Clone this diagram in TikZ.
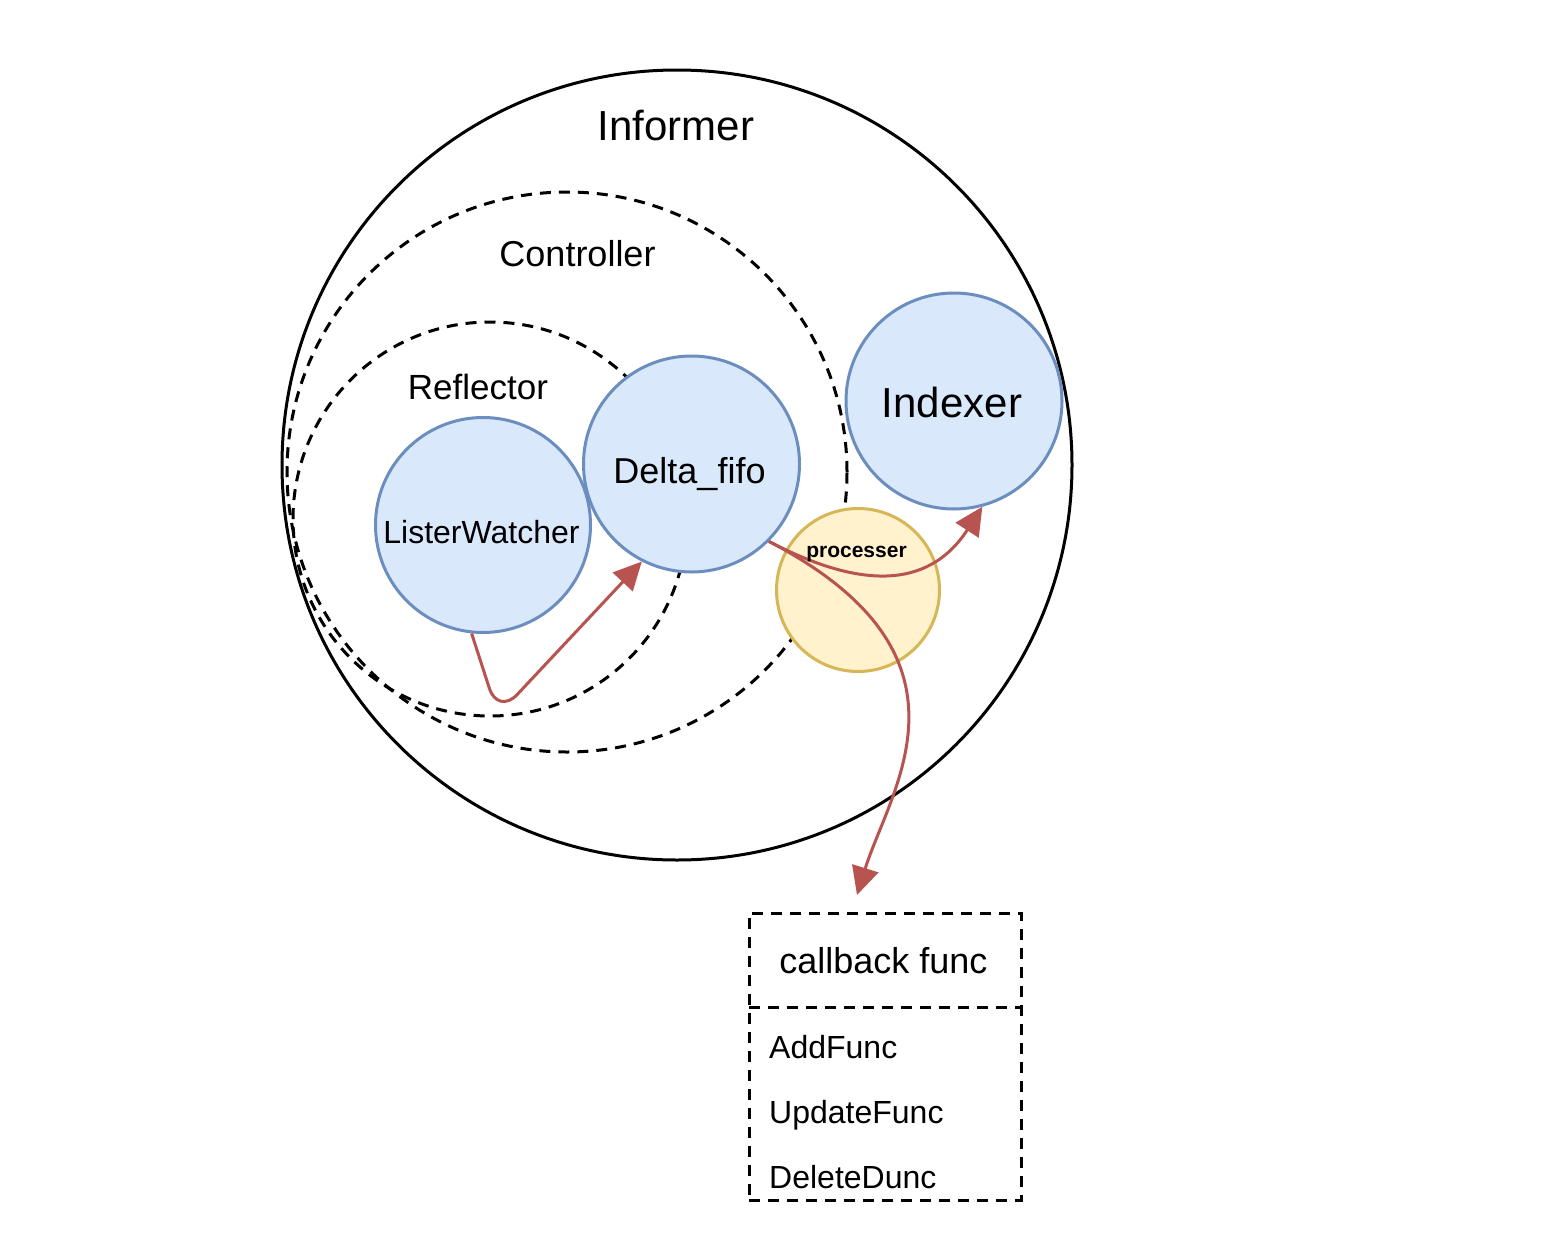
\documentclass[tikz,border=0pt]{standalone}
\usepackage{fontspec}
\setmainfont{Liberation Sans}
\usetikzlibrary{arrows.meta}
\definecolor{bluefill}{HTML}{DAE8FC}
\definecolor{bluestroke}{HTML}{6C8EBF}
\definecolor{yelfill}{HTML}{FFF2CC}
\definecolor{yelstroke}{HTML}{D6B656}
\definecolor{redline}{HTML}{B85450}
\begin{document}
\begin{tikzpicture}[x=1pt,y=-1pt,
  dashline/.style={dash pattern=on 11pt off 8pt},
  ring/.style={circle, draw=black, line width=3pt, inner sep=0pt, minimum size=#1},
  bluecirc/.style={circle, draw=bluestroke, fill=bluefill, line width=3pt, inner sep=0pt, minimum size=#1},
  yelcirc/.style={circle, draw=yelstroke, fill=yelfill, line width=3pt, inner sep=0pt, minimum size=#1},
  lbl/.style={inner sep=0pt, anchor=base, font=\fontsize{#1}{#1}\selectfont},
  lblw/.style={inner sep=0pt, anchor=base west, font=\fontsize{#1}{#1}\selectfont},
  redarrow/.style={draw=redline, line width=3pt, -{Triangle[length=28pt,width=27pt]}},
]
\fill[white] (0,0) rectangle (1542,1234);
\useasboundingbox (0,0) rectangle (1542,1234);

% containers
\node[ring=790pt] (informer) at (677,465) {};
\node[ring=560pt, dashline] (controller) at (567,472) {};
\node[ring=394pt, dashline] (reflector) at (490,519) {};

% components
\node[bluecirc=215pt] (lw) at (483,525) {};
\node[bluecirc=216pt] (delta) at (691.5,464) {};
\node[bluecirc=216pt] (indexer) at (954,401) {};
\node[yelcirc=163pt] (proc) at (858,590) {};

% callback box
\node[draw=black, line width=3pt, dashline, rectangle, inner sep=0pt,
      minimum width=272pt, minimum height=287pt] (cb) at (885,1056.5) {};
\draw[line width=3pt, dashline] (749,1007) -- (1021,1007);
\coordinate (cbtip) at (857,895);

% connectors
\draw[redarrow, rounded corners=28pt] (lw.-96) -- (498,715) -- (delta.-117);
\draw[redarrow] (delta.-45) .. controls (856,587) and (927,592) .. (indexer.-75);
\draw[redarrow] (delta.-45) .. controls (989,656) and (890,789) .. (cbtip);

% labels
\node[lbl=42pt] (tinformer) at (676,140) {Informer};
\node[lbl=36pt] (tcontroller) at (577.5,266) {Controller};
\node[lbl=35pt] (treflector) at (478,399) {Reflector};
\node[lbl=32pt] (tlw) at (481.5,543) {ListerWatcher};
\node[lbl=36pt] (tdelta) at (689.5,483) {Delta\_fifo};
\node[lbl=42pt] (tindexer) at (952,417) {Indexer};
\node[lbl=21pt, font=\fontsize{21}{21}\selectfont\bfseries] (tproc) at (856.5,557) {processer};
\node[lbl=36pt] (tcb) at (883.5,973) {callback func};
\node[lblw=32pt] (tadd) at (769,1058) {AddFunc};
\node[lblw=32pt] (tupd) at (769,1123) {UpdateFunc};
\node[lblw=32pt] (tdel) at (769,1188) {DeleteDunc};
\end{tikzpicture}
\end{document}
